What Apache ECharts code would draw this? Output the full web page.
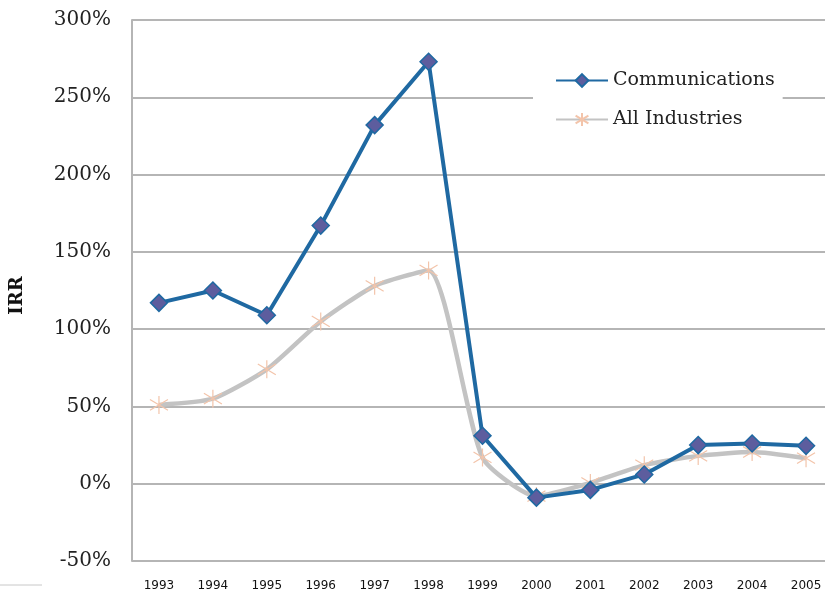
<!DOCTYPE html>
<html>
<head>
<meta charset="utf-8">
<script src="https://cdn.jsdelivr.net/npm/echarts@6/dist/echarts.min.js"></script>
<style>html,body{margin:0;padding:0;background:#fff;overflow:hidden}#c{width:833px;height:593px}</style>
</head>
<body>
<div id="c"></div>
<script>
const years = ['1993','1994','1995','1996','1997','1998','1999','2000','2001','2002','2003','2004','2005'];
const communications = [117, 125, 109, 167, 232, 273, 31, -9, -4, 6, 25, 26, 24.5];
const allIndustries = [51, 55, 74, 105, 128, 138, 17, -8, 0.5, 12, 18, 20.5, 16.5];
const yTicks = { min: -50, max: 300, interval: 50 };

const asterisk = 'path://M10,0L10,20M1.5,4L18.5,16M18.5,4L1.5,16';
const chart = echarts.init(document.getElementById('c'));
chart.setOption({
  animation: false,
  backgroundColor: '#fff',
  grid: { left: 130, right: 0, top: 20, bottom: 32, containLabel: false },
  legend: {
    orient: 'vertical',
    left: 533, top: 67,
    backgroundColor: '#fff',
    padding: [4, 8, 4, 22],
    itemWidth: 52, itemHeight: 16, itemGap: 20,
    textStyle: { fontFamily: 'DejaVu Serif', fontSize: 19, color: '#222' },
    data: ['Communications', 'All Industries']
  },
  xAxis: {
    type: 'category', data: years, boundaryGap: true,
    axisLine: { show: false }, axisTick: { show: false },
    axisLabel: { fontFamily: 'DejaVu Sans', fontSize: 12, color: '#111', margin: 19, interval: 0 }
  },
  yAxis: {
    type: 'value', min: yTicks.min, max: yTicks.max, interval: yTicks.interval,
    name: 'IRR', nameLocation: 'middle', nameGap: 106, nameRotate: 90,
    nameTextStyle: { fontFamily: 'DejaVu Serif', fontWeight: 'bold', fontSize: 18, color: '#111', padding: [0, 0, 0, -10] },
    axisLine: { show: true, lineStyle: { color: '#b5b5b5', width: 2 } },
    axisTick: { show: false },
    splitLine: { lineStyle: { color: '#b5b5b5', width: 2 } },
    axisLabel: { formatter: '{value}%', fontFamily: 'DejaVu Serif', fontSize: 20, color: '#222', margin: 21 }
  },
  series: [
    {
      name: 'Communications', type: 'line', data: communications, z: 3,
      symbol: 'diamond', symbolSize: 17,
      lineStyle: { color: '#1f69a2', width: 4 },
      itemStyle: { color: '#5d5d9e', borderColor: '#1f69a2', borderWidth: 1.5 }
    },
    {
      name: 'All Industries', type: 'line', data: allIndustries, smooth: 0.2, z: 2,
      symbol: asterisk, symbolSize: 18,
      lineStyle: { color: '#c3c3c3', width: 4.5 },
      itemStyle: { color: 'none', borderColor: '#f3c4aa', borderWidth: 1.2 }
    }
  ],
  graphic: [
    { type: 'line', shape: { x1: 0, y1: 585, x2: 42, y2: 585 }, style: { stroke: '#c8c8c8', lineWidth: 1 } }
  ]
});
</script>
</body>
</html>
